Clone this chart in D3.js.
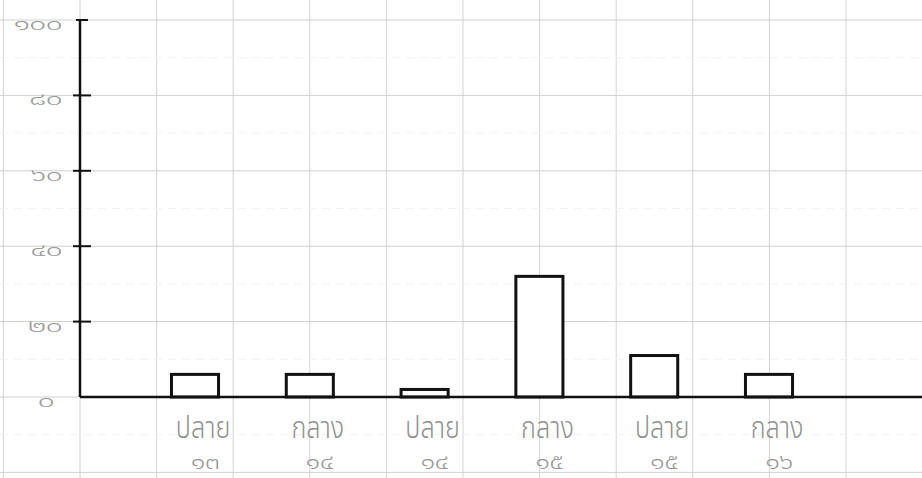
<!DOCTYPE html>
<html>
<head>
<meta charset="utf-8">
<script src="https://cdn.jsdelivr.net/npm/d3@7"></script>
<style>
  html, body { margin: 0; padding: 0; background: #ffffff; }
  svg { display: block; }
  text { font-family: "Noto Sans Thai", "Noto Sans", "DejaVu Sans", sans-serif; }
</style>
</head>
<body>
<svg id="chart" width="922" height="478"></svg>
<script>
// ---- data ----
const periods = ["ปลาย", "กลาง", "ปลาย", "กลาง", "ปลาย", "กลาง"];
const years = ["๑๓", "๑๔", "๑๔", "๑๕", "๑๕", "๑๖"];
const values = [6, 6, 2, 32, 11, 6];
const yTicks = [0, 20, 40, 60, 80, 100];
const yTickLabels = ["๐", "๒๐", "๔๐", "๖๐", "๘๐", "๑๐๐"];

const categories = periods.map((p, i) => i);

const W = 922, H = 478;
const svg = d3.select("#chart");

const y = d3.scaleLinear().domain([0, 100]).range([397, 20]);
const x = d3.scaleBand().domain(categories).range([137.6, 826.4])
  .paddingInner(0.59).paddingOuter(0.295);

// graph-paper grid
const gx = 76.6, gy = (y(0) - y(100)) / 5;
const grid = svg.append("g");
const vLines = d3.range(-1, 12).map(k => 80 + k * gx).filter(v => v >= 0 && v <= W);
grid.selectAll("line.v").data(vLines).join("line")
  .attr("x1", d => d).attr("x2", d => d).attr("y1", 0).attr("y2", H)
  .attr("stroke", "#d4d4d4").attr("stroke-width", 1);
const hLines = d3.range(-1, 7).map(k => y(100) + k * gy).filter(v => v >= 0 && v <= H);
grid.selectAll("line.h").data(hLines).join("line")
  .attr("x1", 0).attr("x2", W).attr("y1", d => d).attr("y2", d => d)
  .attr("stroke", "#d0d0d0").attr("stroke-width", 1);
const hMinor = d3.range(-1, 7).map(k => y(100) + (k + 0.5) * gy).filter(v => v >= 0 && v <= H);
grid.selectAll("line.hm").data(hMinor).join("line")
  .attr("x1", 0).attr("x2", W).attr("y1", d => d).attr("y2", d => d)
  .attr("stroke", "#f2f2f2").attr("stroke-width", 1).attr("stroke-dasharray", "8,6");

// bars
svg.append("g").selectAll("rect").data(values).join("rect")
  .attr("x", (d, i) => x(i))
  .attr("y", d => y(d))
  .attr("width", x.bandwidth())
  .attr("height", d => y(0) - y(d))
  .attr("fill", "#ffffff")
  .attr("stroke", "#111")
  .attr("stroke-width", 3);

// y axis (tick labels drawn from the scale)
svg.append("g").selectAll("text").data(yTicks).join("text")
  .attr("transform", d => `translate(${d === 0 ? 54 : 62},${y(d) + 4}) scale(1.8,1)`)
  .attr("text-anchor", "end")
  .attr("dy", "0.35em")
  .attr("font-size", 17)
  .attr("font-weight", 300)
  .attr("letter-spacing", -0.5)
  .attr("fill", "#9a9a9a")
  .text((d, i) => yTickLabels[i]);
svg.append("line").attr("x1", 80).attr("x2", 80).attr("y1", y(100)).attr("y2", y(0))
  .attr("stroke", "#111").attr("stroke-width", 2.5);
svg.append("g").selectAll("line").data(yTicks.filter(d => d !== 0)).join("line")
  .attr("x1", d => d === 100 ? 76 : 73).attr("x2", d => d === 100 ? 88 : 91)
  .attr("y1", d => y(d)).attr("y2", d => y(d))
  .attr("stroke", "#111").attr("stroke-width", 2);

// baseline
svg.append("line").attr("x1", 80).attr("x2", W).attr("y1", y(0)).attr("y2", y(0))
  .attr("stroke", "#111").attr("stroke-width", 2.5);

// x labels
const xl = svg.append("g");
xl.selectAll("text.p").data(periods).join("text")
  .attr("transform", (d, i) => `translate(${x(i) + x.bandwidth() / 2 + 8},438) scale(1.05,1.25)`)
  .attr("text-anchor", "middle")
  .attr("font-size", 24)
  .attr("font-weight", 300)
  .attr("fill", "#909090")
  .text(d => d);
xl.selectAll("text.y").data(years).join("text")
  .attr("transform", (d, i) => `translate(${x(i) + x.bandwidth() / 2 + 10},469) scale(1.3,1)`)
  .attr("text-anchor", "middle")
  .attr("font-size", 21)
  .attr("font-weight", 300)
  .attr("letter-spacing", -0.5)
  .attr("fill", "#9a9a9a")
  .text(d => d);
</script>
</body>
</html>
